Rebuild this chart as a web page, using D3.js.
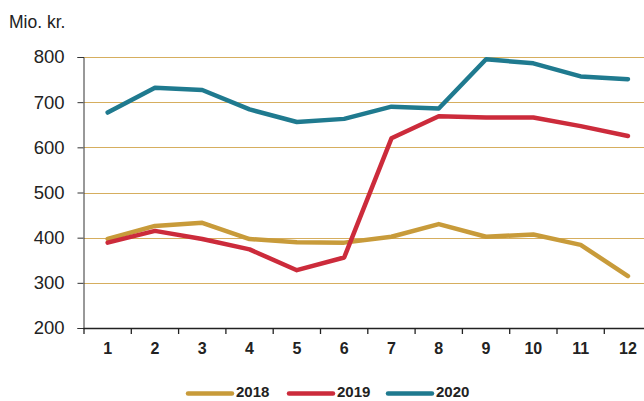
<!DOCTYPE html>
<html><head><meta charset="utf-8">
<script src="https://cdn.jsdelivr.net/npm/d3@7"></script>
<style>body{margin:0;background:#fff}svg{display:block}</style>
</head><body>
<svg id="c" width="644" height="401"></svg>
<script>
const months = [1,2,3,4,5,6,7,8,9,10,11,12];
const v2018 = [397,426,433,397,390,389,402,430,402,407,384,315];
const v2019 = [389,415,397,374,328,356,620,669,666,666,647,625];
const v2020 = [677,732,727,684,656,663,690,686,795,786,757,751];
const seriesNames = ["2018","2019","2020"];
const colors = ["#C89B3A","#CC2B3B","#1F7A8F"];
const yTicks = [200,300,400,500,600,700,800];
const unitLabel = "Mio. kr.";

const svg = d3.select("#c");
const x = d3.scaleBand().domain(months).range([84, 651.6]).padding(0);
const y = d3.scaleLinear().domain([200,800]).range([328,57]);

// gridlines
svg.append("g").selectAll("line").data(yTicks.filter(d=>d>200)).join("line")
  .attr("x1",84).attr("x2",644).attr("y1",d=>Math.round(y(d))+0.5).attr("y2",d=>Math.round(y(d))+0.5)
  .attr("stroke","#D6AE5E").attr("stroke-width",1);

// y axis
const ya = svg.append("g").attr("transform","translate(83.5,0)")
  .call(d3.axisLeft(y).tickValues(yTicks).tickSize(6).tickPadding(13));
ya.select(".domain").attr("stroke","#333");
ya.selectAll(".tick line").attr("stroke","#333");
ya.selectAll("text").attr("font-family","Liberation Sans, Arial, sans-serif").attr("font-size","18.5px").attr("fill","#222");

// x axis
const xa = svg.append("g").attr("transform","translate(0,328.5)")
  .call(d3.axisBottom(x).tickSize(0).tickPadding(14));
xa.select(".domain").attr("stroke","#222").attr("stroke-width",1.5).attr("d","M83.5,0H644");
xa.selectAll("text").attr("font-family","Liberation Sans, Arial, sans-serif").attr("font-size","16px").attr("font-weight","bold").attr("fill","#222");
svg.append("g").selectAll("line").data(months).join("line")
  .attr("x1",d=>x(d)).attr("x2",d=>x(d)).attr("y1",328).attr("y2",334)
  .attr("stroke","#222").attr("stroke-width",1.3);

// lines
const line = d3.line().x((d,i)=>x(months[i])+x.bandwidth()/2).y(d=>y(d));
[v2018,v2019,v2020].forEach((s,i)=>{
  svg.append("path").datum(s).attr("d",line).attr("fill","none")
    .attr("stroke",colors[i]).attr("stroke-width",4.5)
    .attr("stroke-linejoin","round").attr("stroke-linecap","round");
});

// unit label
svg.append("text").attr("x",9).attr("y",28).text(unitLabel)
  .attr("font-family","Liberation Sans, Arial, sans-serif").attr("font-size","17.5px").attr("fill","#222");

// legend
const legX = [188,289,388];
seriesNames.forEach((n,i)=>{
  svg.append("line").attr("x1",legX[i]).attr("x2",legX[i]+44).attr("y1",393.5).attr("y2",393.5)
    .attr("stroke",colors[i]).attr("stroke-width",4.5).attr("stroke-linecap","round");
  svg.append("text").attr("x",legX[i]+48).attr("y",397).text(n)
    .attr("font-family","Liberation Sans, Arial, sans-serif").attr("font-size","15px").attr("font-weight","bold").attr("fill","#222");
});
</script>
</body></html>
